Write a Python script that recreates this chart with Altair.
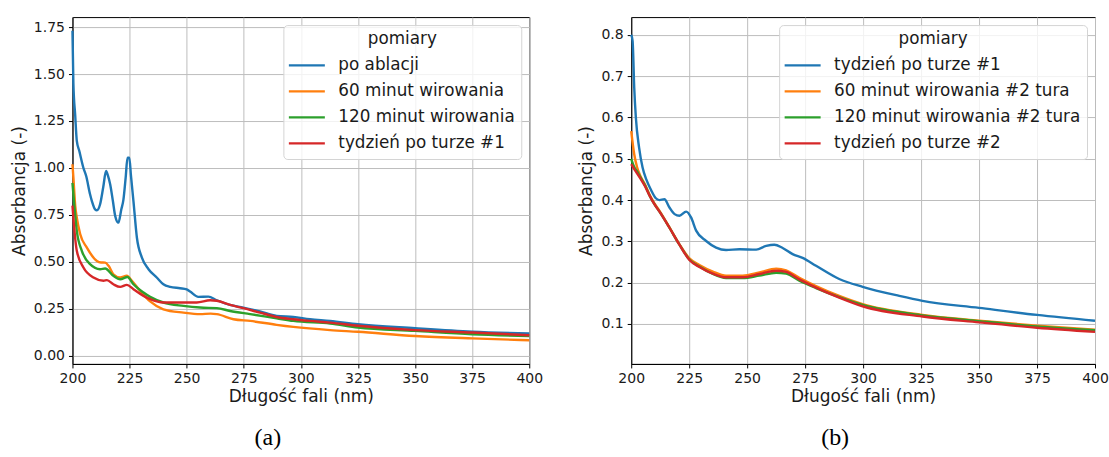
import altair as alt
import pandas as pd

# ---------------- data ----------------
A_NAMES = ["po ablacji", "60 minut wirowania", "120 minut wirowania", "tydzień po turze #1"]
B_NAMES = ["tydzień po turze #1", "60 minut wirowania #2 tura", "120 minut wirowania #2 tura", "tydzień po turze #2"]
COLORS = ["#1f77b4", "#ff7f0e", "#2ca02c", "#d62728"]

A_BLUE_WL = [200, 200.4, 201.2, 201.9, 203, 204.8, 206, 207.7, 208.5, 209.9, 210.7, 212.1, 213.5, 214.7, 215.5,
             216.5, 217.7, 218.7, 220.1, 221.4, 222.3, 223.3, 224.1, 224.9, 225.6, 226.7, 228.2, 230.4, 233.3,
             236.9, 239.8, 242.8, 247.1, 250, 251.5, 255.1, 259.5, 263.2, 269, 274.8, 282.1, 289.4, 296.7, 304,
             312.8, 325, 350, 375, 400]
A_BLUE = [1.73, 1.45, 1.28, 1.144, 1.09, 1.00, 0.957, 0.86, 0.824, 0.78, 0.775, 0.807, 0.90, 0.984, 0.96,
          0.913, 0.824, 0.745, 0.709, 0.78, 0.83, 0.95, 1.055, 1.055, 0.96, 0.824, 0.63, 0.523, 0.461,
          0.417, 0.381, 0.367, 0.36, 0.354, 0.342, 0.314, 0.315, 0.296, 0.271, 0.257, 0.236, 0.213, 0.207, 0.195,
          0.186, 0.168, 0.147, 0.129, 0.119]

A_ORANGE_WL = [200, 200.4, 201.2, 201.9, 203.4, 206.3, 210.7, 212.5, 214.3, 215.8, 217.9, 220.9, 223.8, 226,
               229.6, 234, 239.8, 248.6, 255.9, 260.5, 263.2, 270.5, 277.8, 289.4, 296.7, 312.8, 325, 350, 375, 400]
A_ORANGE = [1.02, 0.95, 0.80, 0.735, 0.647, 0.576, 0.505, 0.497, 0.496, 0.479, 0.434, 0.417, 0.426, 0.40,
            0.346, 0.29, 0.248, 0.23, 0.222, 0.225, 0.222, 0.195, 0.186, 0.165, 0.154, 0.137, 0.128, 0.106, 0.093, 0.083]

A_GREEN_WL = [200, 200.4, 201.9, 204.1, 207.7, 212.1, 214.3, 217.9, 220.9, 224.1, 226.7, 231.1, 234, 239.8,
              248.6, 255.9, 263.2, 269, 277.8, 289.4, 296.7, 312.8, 325, 350, 375, 400]
A_GREEN = [0.92, 0.86, 0.665, 0.559, 0.488, 0.461, 0.465, 0.426, 0.408, 0.42, 0.381, 0.337, 0.314, 0.284,
           0.266, 0.257, 0.254, 0.239, 0.222, 0.20, 0.186, 0.172, 0.151, 0.133, 0.115, 0.106]

A_RED_WL = [200, 200.4, 201.9, 204.8, 209.2, 213.6, 215.1, 217.9, 220.9, 223.8, 226.7, 231.1, 234, 239.8,
            248.6, 254.4, 260.3, 263.2, 269, 274.8, 282.1, 289.4, 296.7, 304, 312.8, 325, 350, 375, 400]
A_RED = [0.80, 0.735, 0.559, 0.47, 0.417, 0.40, 0.403, 0.381, 0.367, 0.378, 0.355, 0.319, 0.302, 0.284,
         0.284, 0.284, 0.296, 0.293, 0.271, 0.254, 0.23, 0.207, 0.195, 0.186, 0.177, 0.16, 0.137, 0.124, 0.11]

B_BLUE_WL = [200, 200.6, 201.3, 202, 203.4, 204.9, 206.5, 208.5, 210.5, 212.2, 214.3, 216.5, 218.7, 220.8,
             223.7, 225.8, 228, 232.3, 236.6, 240.9, 246.7, 253.9, 258.2, 261.7, 265.3, 269.6, 273.9, 279.7,
             289.7, 299.8, 315.6, 325.6, 350, 375, 400]
B_BLUE = [0.80, 0.785, 0.672, 0.60, 0.527, 0.479, 0.45, 0.425, 0.405, 0.40, 0.402, 0.382, 0.366, 0.362,
          0.372, 0.358, 0.326, 0.301, 0.285, 0.279, 0.281, 0.28, 0.289, 0.292, 0.284, 0.269, 0.26, 0.241,
          0.209, 0.19, 0.168, 0.156, 0.139, 0.122, 0.108]

B_WL = [200, 201.3, 202.5, 204, 206, 208, 210, 212.2, 216.5, 220.8, 225.1, 229.4, 235.2, 240.9, 248.1,
        255.3, 262.5, 266.8, 272.5, 279.7, 289.7, 299.8, 325.6, 350, 375, 400]
B_ORANGE = [0.567, 0.511, 0.48, 0.458, 0.437, 0.412, 0.392, 0.374, 0.334, 0.293, 0.259, 0.243, 0.227, 0.217,
            0.217, 0.225, 0.234, 0.23, 0.212, 0.192, 0.168, 0.148, 0.122, 0.108, 0.096, 0.086]
B_GREEN = [0.50, 0.48, 0.47, 0.455, 0.435, 0.41, 0.39, 0.372, 0.333, 0.292, 0.256, 0.239, 0.221, 0.211,
           0.211, 0.217, 0.224, 0.222, 0.205, 0.187, 0.165, 0.146, 0.121, 0.107, 0.094, 0.085]
B_RED = [0.487, 0.475, 0.465, 0.452, 0.433, 0.41, 0.39, 0.372, 0.333, 0.292, 0.255, 0.238, 0.222, 0.213,
         0.213, 0.221, 0.229, 0.226, 0.208, 0.188, 0.164, 0.143, 0.118, 0.104, 0.091, 0.081]

X_TICKS = [200, 225, 250, 275, 300, 325, 350, 375, 400]
A_Y_TICKS = [0.0, 0.25, 0.5, 0.75, 1.0, 1.25, 1.5, 1.75]
B_Y_TICKS = [0.1, 0.2, 0.3, 0.4, 0.5, 0.6, 0.7, 0.8]


def build_frame(names, wls, vals):
    rows = []
    for order, (name, w, v) in enumerate(zip(names, wls, vals)):
        for a, b in zip(w, v):
            rows.append({"nm": a, "abs": b, "pomiary": name, "k": order})
    return pd.DataFrame(rows)


df_a = build_frame(A_NAMES, [A_BLUE_WL, A_ORANGE_WL, A_GREEN_WL, A_RED_WL], [A_BLUE, A_ORANGE, A_GREEN, A_RED])
df_b = build_frame(B_NAMES, [B_BLUE_WL, B_WL, B_WL, B_WL], [B_BLUE, B_ORANGE, B_GREEN, B_RED])

FONT = "DejaVu Sans"
TXT = "#1a1a1a"


def panel(df, names, ydomain, yticks, yfmt, caption, width, cap_dx):
    legend = alt.Legend(
        title="pomiary", orient="top-right", offset=8,
        fillColor="rgba(255,255,255,0.8)", strokeColor="#d4d4d4", cornerRadius=4, padding=6,
        labelFont=FONT, labelFontSize=16.8, labelColor=TXT, labelLimit=400, labelOffset=26,
        titleFont=FONT, titleFontSize=16.8, titleFontWeight="normal", titleColor=TXT,
        titleAnchor="middle", titlePadding=6, rowPadding=5,
        symbolType="M-1.2,0L2.4,0", symbolSize=400, symbolStrokeWidth=2.4,
    )
    return alt.Chart(df).mark_line(strokeWidth=2.4, interpolate="monotone").encode(
        x=alt.X("nm:Q", scale=alt.Scale(domain=[200, 400], nice=False, zero=False),
                axis=alt.Axis(values=X_TICKS, title="Długość fali (nm)", labelFlush=False, titlePadding=3)),
        y=alt.Y("abs:Q", scale=alt.Scale(domain=ydomain, nice=False, zero=False),
                axis=alt.Axis(values=yticks, format=yfmt, title="Absorbancja (-)", titlePadding=5)),
        color=alt.Color("pomiary:N", scale=alt.Scale(domain=names, range=COLORS), sort=names, legend=legend),
        detail="k:O",
    ).properties(
        width=width, height=347,
        title=alt.TitleParams(caption, orient="bottom", font="Liberation Serif", fontSize=24,
                              fontWeight="normal", color="#000000", offset=21, dx=cap_dx),
    )


pa = panel(df_a, A_NAMES, [-0.043, 1.803], A_Y_TICKS, ".2f", "(a)", 457, -33)
pb = panel(df_b, B_NAMES, [0.0033, 0.843], B_Y_TICKS, ".1f", "(b)", 464, -28)

chart = alt.hconcat(pa, pb, spacing=34).resolve_scale(color="independent").properties(
    padding={"top": 16, "left": 9.5, "right": 0, "bottom": 0}, background="white"
).configure_view(stroke="black", strokeWidth=1).configure_axis(
    domainColor="black", tickColor="black", tickSize=4, tickWidth=1, labelPadding=4,
    labelFont=FONT, labelFontSize=14, labelColor=TXT,
    titleFont=FONT, titleFontSize=17, titleFontWeight="normal", titleColor=TXT,
    gridColor="#bdbdbd", gridWidth=1,
)

chart.save("out.html", embed_options={"renderer": "svg", "actions": False})
